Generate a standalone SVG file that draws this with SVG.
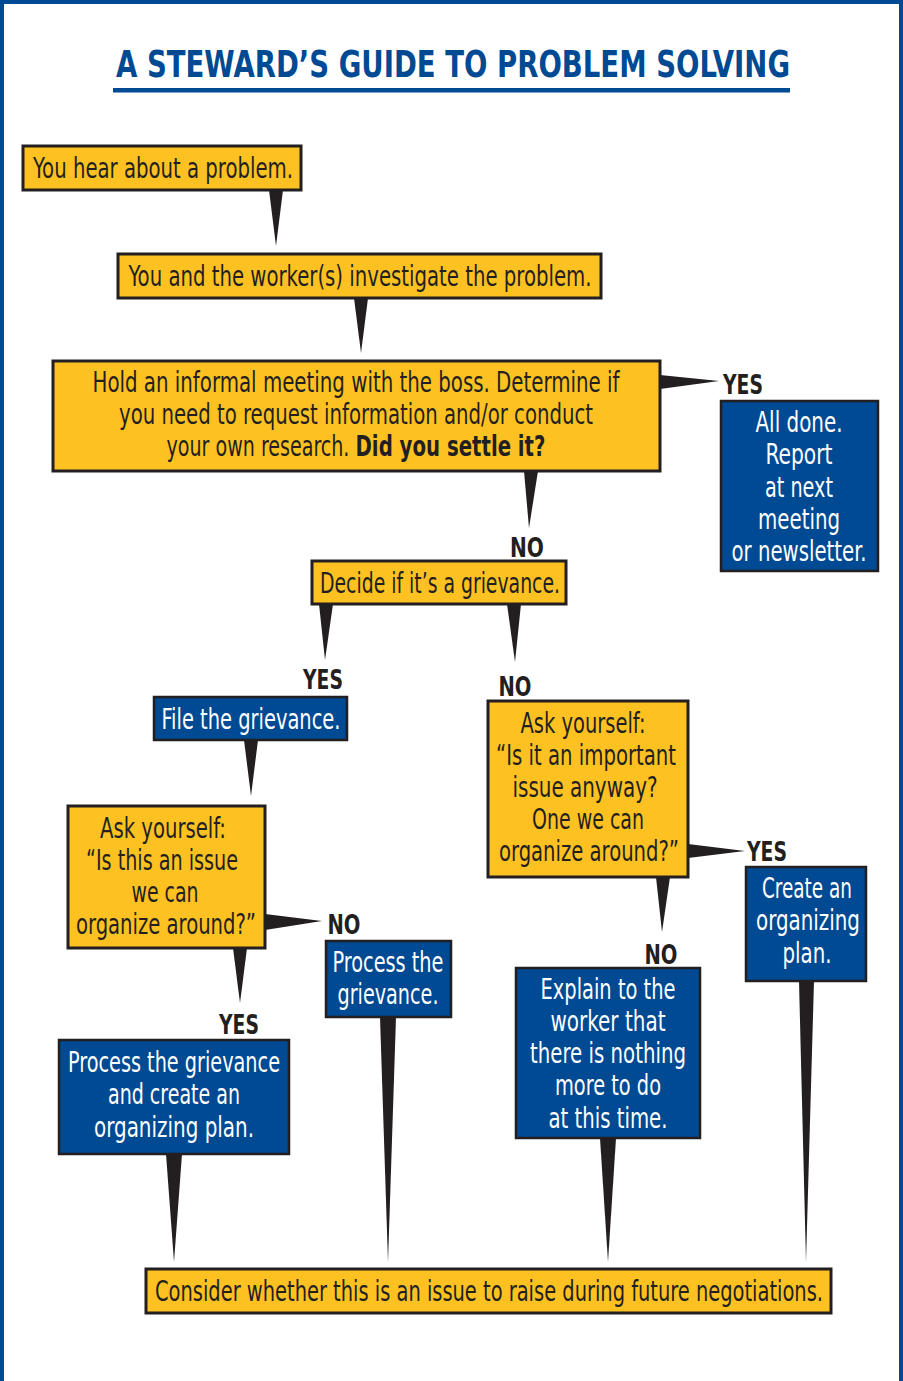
<svg xmlns="http://www.w3.org/2000/svg" width="903" height="1381" viewBox="0 0 903 1381">
<style>
.y{fill:#FDC221;stroke:#231F20;stroke-width:3}
.b{fill:#004A93;stroke:#231F20;stroke-width:2.5}
text{font-family:"Liberation Sans Narrow","DejaVu Sans Condensed","Liberation Sans",sans-serif;font-size:28.5px;text-anchor:middle}
.dk{fill:#231F20}
.wt{fill:#FFFFFF}
.lab{fill:#231F20;font-weight:bold;font-size:27px}
.w{fill:#231F20}
</style>
<rect x="2" y="2" width="899" height="1385" fill="#FFFFFF" stroke="#004A93" stroke-width="4"/>
<g id="title">
<text x="453" y="77" textLength="674" lengthAdjust="spacingAndGlyphs" style="font-size:37px;font-weight:bold;fill:#004A93">A STEWARD’S GUIDE TO PROBLEM SOLVING</text>
<rect x="113" y="88" width="677" height="4.5" fill="#004A93"/>
</g>
<g id="connectors">
<polygon class="w" points="269,190 283,190 276,246"/>
<polygon class="w" points="354,298 368,298 361,353"/>
<polygon class="w" points="660,375 660,389 719,381"/>
<polygon class="w" points="524,471 538,471 529,528"/>
<polygon class="w" points="319,604 333,604 325,660"/>
<polygon class="w" points="507,604 521,604 515,662"/>
<polygon class="w" points="244,740 258,740 251,796"/>
<polygon class="w" points="265,914 265,930 322,921"/>
<polygon class="w" points="233,948 247,948 240,1003"/>
<polygon class="w" points="166,1154 182,1154 174,1262"/>
<polygon class="w" points="380,1017 396,1017 388,1262"/>
<polygon class="w" points="688,844 688,858 745,851"/>
<polygon class="w" points="656,877 670,877 662,932"/>
<polygon class="w" points="799,981 814,981 806,1262"/>
<polygon class="w" points="600,1138 616,1138 608,1262"/>
<text class="lab" x="743" y="394" textLength="40" lengthAdjust="spacingAndGlyphs">YES</text>
<text class="lab" x="527" y="557" textLength="34" lengthAdjust="spacingAndGlyphs">NO</text>
<text class="lab" x="323" y="689" textLength="40" lengthAdjust="spacingAndGlyphs">YES</text>
<text class="lab" x="515" y="696" textLength="33" lengthAdjust="spacingAndGlyphs">NO</text>
<text class="lab" x="344" y="934" textLength="33" lengthAdjust="spacingAndGlyphs">NO</text>
<text class="lab" x="239" y="1034" textLength="40" lengthAdjust="spacingAndGlyphs">YES</text>
<text class="lab" x="767" y="861" textLength="40" lengthAdjust="spacingAndGlyphs">YES</text>
<text class="lab" x="661" y="964" textLength="33" lengthAdjust="spacingAndGlyphs">NO</text>
</g>
<g id="n1">
<rect class="y" x="23" y="146" width="278" height="44"/>
<text class="dk" x="163" y="178" textLength="260" lengthAdjust="spacingAndGlyphs">You hear about a problem.</text>
</g>
<g id="n2">
<rect class="y" x="118" y="254" width="483" height="44"/>
<text class="dk" x="360" y="286" textLength="463" lengthAdjust="spacingAndGlyphs">You and the worker(s) investigate the problem.</text>
</g>
<g id="n3">
<rect class="y" x="53" y="361" width="607" height="110"/>
<text class="dk" x="356" y="392" textLength="527" lengthAdjust="spacingAndGlyphs">Hold an informal meeting with the boss. Determine if</text>
<text class="dk" x="356" y="424" textLength="474" lengthAdjust="spacingAndGlyphs">you need to request information and/or conduct</text>
<text class="dk" x="356" y="456"><tspan textLength="189" lengthAdjust="spacingAndGlyphs">your own research. </tspan><tspan font-weight="bold" textLength="190" lengthAdjust="spacingAndGlyphs">Did you settle it?</tspan></text>
</g>
<g id="n4">
<rect class="b" x="721" y="401" width="157" height="170"/>
<text class="wt" x="799" y="432" textLength="87" lengthAdjust="spacingAndGlyphs">All done.</text>
<text class="wt" x="799" y="464" textLength="67" lengthAdjust="spacingAndGlyphs">Report</text>
<text class="wt" x="799" y="497" textLength="68" lengthAdjust="spacingAndGlyphs">at next</text>
<text class="wt" x="799" y="529" textLength="82" lengthAdjust="spacingAndGlyphs">meeting</text>
<text class="wt" x="799" y="561" textLength="135" lengthAdjust="spacingAndGlyphs">or newsletter.</text>
</g>
<g id="n5">
<rect class="y" x="312" y="561" width="254" height="43"/>
<text class="dk" x="440" y="593" textLength="240" lengthAdjust="spacingAndGlyphs">Decide if it’s a grievance.</text>
</g>
<g id="n6">
<rect class="b" x="154" y="697" width="193" height="43"/>
<text class="wt" x="251" y="729" textLength="179" lengthAdjust="spacingAndGlyphs">File the grievance.</text>
</g>
<g id="n7">
<rect class="y" x="68" y="806" width="197" height="142"/>
<text class="dk" x="163" y="838" textLength="126" lengthAdjust="spacingAndGlyphs">Ask yourself:</text>
<text class="dk" x="162" y="870" textLength="152" lengthAdjust="spacingAndGlyphs">“Is this an issue</text>
<text class="dk" x="165" y="902" textLength="67" lengthAdjust="spacingAndGlyphs">we can</text>
<text class="dk" x="166" y="934" textLength="180" lengthAdjust="spacingAndGlyphs">organize around?”</text>
</g>
<g id="n8">
<rect class="b" x="326" y="941" width="125" height="76"/>
<text class="wt" x="388" y="972" textLength="111" lengthAdjust="spacingAndGlyphs">Process the</text>
<text class="wt" x="388" y="1004" textLength="101" lengthAdjust="spacingAndGlyphs">grievance.</text>
</g>
<g id="n9">
<rect class="b" x="59" y="1040" width="230" height="114"/>
<text class="wt" x="174" y="1072" textLength="212" lengthAdjust="spacingAndGlyphs">Process the grievance</text>
<text class="wt" x="174" y="1104" textLength="132" lengthAdjust="spacingAndGlyphs">and create an</text>
<text class="wt" x="174" y="1137" textLength="160" lengthAdjust="spacingAndGlyphs">organizing plan.</text>
</g>
<g id="n10">
<rect class="y" x="488" y="701" width="200" height="176"/>
<text class="dk" x="583" y="733" textLength="125" lengthAdjust="spacingAndGlyphs">Ask yourself:</text>
<text class="dk" x="586" y="765" textLength="180" lengthAdjust="spacingAndGlyphs">“Is it an important</text>
<text class="dk" x="585" y="797" textLength="145" lengthAdjust="spacingAndGlyphs">issue  anyway?</text>
<text class="dk" x="588" y="829" textLength="112" lengthAdjust="spacingAndGlyphs">One we can</text>
<text class="dk" x="589" y="861" textLength="180" lengthAdjust="spacingAndGlyphs">organize around?”</text>
</g>
<g id="n11">
<rect class="b" x="746" y="867" width="120" height="114"/>
<text class="wt" x="807" y="898" textLength="90" lengthAdjust="spacingAndGlyphs">Create an</text>
<text class="wt" x="808" y="930" textLength="104" lengthAdjust="spacingAndGlyphs">organizing</text>
<text class="wt" x="807" y="963" textLength="49" lengthAdjust="spacingAndGlyphs">plan.</text>
</g>
<g id="n12">
<rect class="b" x="516" y="968" width="184" height="170"/>
<text class="wt" x="608" y="999" textLength="135" lengthAdjust="spacingAndGlyphs">Explain to the</text>
<text class="wt" x="608" y="1031" textLength="115" lengthAdjust="spacingAndGlyphs">worker that</text>
<text class="wt" x="608" y="1063" textLength="156" lengthAdjust="spacingAndGlyphs">there is nothing</text>
<text class="wt" x="608" y="1095" textLength="106" lengthAdjust="spacingAndGlyphs">more to do</text>
<text class="wt" x="608" y="1128" textLength="119" lengthAdjust="spacingAndGlyphs">at this time.</text>
</g>
<g id="n13">
<rect class="y" x="146" y="1269" width="685" height="44"/>
<text class="dk" x="489" y="1301" textLength="668" lengthAdjust="spacingAndGlyphs">Consider whether this is an issue to raise during future negotiations.</text>
</g>
</svg>
